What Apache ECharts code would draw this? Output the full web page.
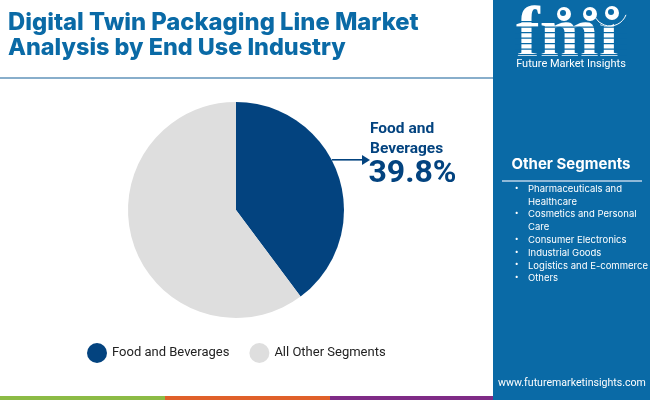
<!DOCTYPE html>
<html>
<head>
<meta charset="utf-8">
<style>
  html, body { margin: 0; padding: 0; background: #fff; }
  #chart { width: 650px; height: 400px; }
</style>
<script src="https://cdn.jsdelivr.net/npm/echarts@6/dist/echarts.min.js"></script>
</head>
<body>
<div id="chart"></div>
<script>
const categories = ['Food and Beverages', 'All Other Segments']
const shares = [39.8, 60.2]
const sliceColors = ['#03437f', '#dedede']
const titleLines = ['Digital Twin Packaging Line Market', 'Analysis by End Use Industry']
const calloutName = ['Food and', 'Beverages']
const calloutValue = '39.8%'
const otherSegments = [
  ['Pharmaceuticals and', 'Healthcare'],
  ['Cosmetics and Personal', 'Care'],
  ['Consumer Electronics'],
  ['Industrial Goods'],
  ['Logistics and E-commerce'],
  ['Others']
]

const BLUE = '#0a6aa6'
const NAVY = '#03437f'

function txt(x, y, text, font, size, weight, fill, align) {
  return {
    type: 'text', x: x, y: y, z: 20,
    style: {
      text: text, fontFamily: font, fontSize: size, fontWeight: weight,
      fill: fill, textAlign: align || 'left', textVerticalAlign: 'middle'
    }
  }
}
function rect(x, y, w, h, fill, z) {
  return { type: 'rect', z: z || 5, shape: { x: x, y: y, width: w, height: h }, style: { fill: fill } }
}

const graphics = []

// side panel and rules
graphics.push(rect(493, 0, 157, 400, BLUE))
graphics.push(rect(0, 77, 493, 2, '#88aecb'))
graphics.push(rect(0, 396, 165, 4, '#8cbb45'))
graphics.push(rect(165, 396, 165, 4, '#e0602a'))
graphics.push(rect(330, 396, 163, 4, '#7f2b86'))

// title
graphics.push(txt(8, 23, titleLines[0], 'Inter', 23.8, 800, BLUE))
graphics.push(txt(8, 48, titleLines[1], 'Inter', 23.4, 800, BLUE))

// logo
graphics.push(txt(516, 38, 'fmi', 'Liberation Serif', 71, 700, '#ffffff'))
for (let i = 0; i < 7; i++) {
  graphics.push({
    type: 'rect', z: 21,
    shape: { x: 515, y: 21 + i * 5.5, width: 112, height: 1.2 },
    style: { fill: BLUE }
  })
}
// the i's dot sits on a blue patch, the globes go on top
graphics.push({ type: 'circle', z: 21, shape: { cx: 607, cy: 14, r: 12 }, style: { fill: BLUE } })
graphics.push({ type: 'circle', z: 21, shape: { cx: 577, cy: 10, r: 12 }, style: { fill: BLUE } })
;[[564, 14], [590, 14], [612, 13]].forEach(c => {
  graphics.push({ type: 'circle', z: 22, shape: { cx: c[0], cy: c[1], r: 7 }, style: { fill: '#ffffff' } })
  graphics.push({ type: 'circle', z: 23, shape: { cx: c[0] - 1, cy: c[1] - 1, r: 3 }, style: { fill: BLUE } })
})
graphics.push({
  type: 'arc', z: 22,
  shape: { cx: 610, cy: 9, r: 17, startAngle: 0.35, endAngle: 2.6 },
  style: { stroke: '#ffffff', lineWidth: 1, fill: null }
})
graphics.push(txt(571, 64, 'Future Market Insights', 'Roboto', 11, 400, '#ffffff', 'center'))

// side list
graphics.push(txt(571, 164, 'Other Segments', 'Inter', 15, 700, '#ffffff', 'center'))
graphics.push(rect(502, 180, 140, 2, '#8fb9d8', 21))
let listY = 189
otherSegments.forEach(item => {
  graphics.push(txt(515, listY, '•', 'Roboto', 10, 400, '#ffffff'))
  item.forEach(line => {
    graphics.push(txt(528, listY, line, 'Inter', 9.5, 400, '#ffffff'))
    listY += 12.8
  })
})
graphics.push(txt(572, 383, 'www.futuremarketinsights.com', 'Roboto', 10.6, 400, '#ffffff', 'center'))

// callout
graphics.push(txt(370, 129.5, calloutName[0], 'Roboto', 15.5, 700, NAVY))
graphics.push(txt(370, 149, calloutName[1], 'Roboto', 15.5, 700, NAVY))
graphics.push(txt(368.5, 173.5, calloutValue, 'Roboto', 32, 700, NAVY))
graphics.push(rect(332, 159, 32, 1.6, NAVY, 21))
graphics.push({
  type: 'polygon', z: 21,
  shape: { points: [[362, 155], [370, 160], [362, 165]] },
  style: { fill: NAVY }
})

const chart = echarts.init(document.getElementById('chart'), null, { renderer: 'canvas' })
chart.setOption({
  animation: false,
  backgroundColor: '#ffffff',
  color: sliceColors,
  graphic: graphics,
  legend: {
    left: 82,
    top: 338,
    icon: 'circle',
    itemWidth: 20,
    itemHeight: 20,
    itemGap: 20,
    data: categories,
    textStyle: { fontFamily: 'Roboto', fontSize: 13, color: '#222222' }
  },
  series: [{
    type: 'pie',
    center: [236, 210],
    radius: [0, 108],
    startAngle: 90,
    clockwise: true,
    silent: true,
    label: { show: false },
    labelLine: { show: false },
    data: categories.map((name, i) => ({ name: name, value: shares[i] }))
  }]
})
</script>
</body>
</html>
